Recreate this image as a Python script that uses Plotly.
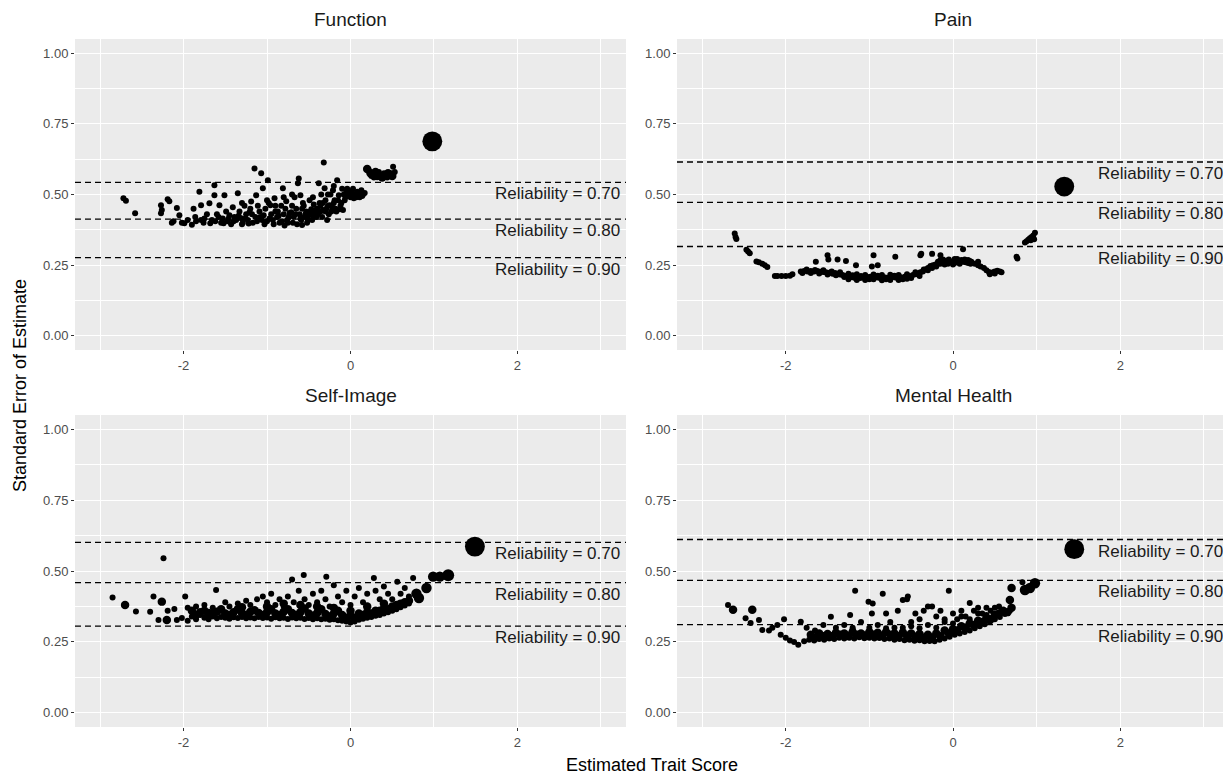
import math
import plotly.graph_objects as go

# ---------------- data ----------------
panel_titles = ["Function", "Pain", "Self-Image", "Mental Health"]
rel_labels = ["Reliability = 0.70", "Reliability = 0.80", "Reliability = 0.90"]

func_rel = [0.543, 0.413, 0.277]
pain_rel = [0.615, 0.472, 0.316]
self_rel = [0.601, 0.459, 0.306]
mental_rel = [0.611, 0.467, 0.311]

x_tick_vals = [-2, 0, 2]
x_tick_text = ["-2", "0", "2"]
y_tick_vals = [0.00, 0.25, 0.50, 0.75, 1.00]
y_tick_text = ["0.00", "0.25", "0.50", "0.75", "1.00"]

# (trait score, standard error, n respondents)
func_pts = [
    (-2.72, 0.487, 1), (-2.69, 0.478, 1), (-2.58, 0.434, 1),
    (-2.27, 0.462, 1), (-2.27, 0.434, 1), (-2.26, 0.445, 1), (-2.19, 0.483, 1), (-2.17, 0.476, 1),
    (-2.14, 0.400, 1), (-2.12, 0.405, 1), (-2.08, 0.452, 1), (-2.05, 0.427, 1), (-2.02, 0.400, 1),
    (-1.99, 0.398, 1), (-1.95, 0.410, 1), (-1.90, 0.393, 1), (-1.88, 0.450, 1), (-1.86, 0.420, 1),
    (-1.81, 0.510, 1), (-1.79, 0.462, 1), (-1.79, 0.410, 1), (-1.76, 0.400, 1), (-1.72, 0.430, 1),
    (-1.69, 0.469, 1), (-1.66, 0.410, 1), (-1.63, 0.533, 1), (-1.63, 0.497, 1), (-1.60, 0.430, 1),
    (-1.57, 0.462, 1), (-1.55, 0.400, 1), (-1.53, 0.415, 1), (-1.51, 0.497, 1), (-1.49, 0.440, 1),
    (-1.47, 0.405, 1), (-1.45, 0.427, 1), (-1.43, 0.395, 1), (-1.41, 0.455, 1), (-1.39, 0.420, 1),
    (-1.37, 0.410, 1), (-1.35, 0.504, 1), (-1.33, 0.440, 1), (-1.31, 0.416, 1), (-1.29, 0.400, 1),
    (-1.27, 0.460, 1), (-1.25, 0.430, 1), (-1.23, 0.410, 1), (-1.21, 0.437, 1), (-1.19, 0.475, 1),
    (-1.17, 0.400, 1), (-1.15, 0.592, 1), (-1.14, 0.420, 1), (-1.13, 0.497, 1), (-1.11, 0.460, 1),
    (-1.09, 0.440, 1), (-1.07, 0.575, 1), (-1.06, 0.410, 1), (-1.05, 0.522, 1), (-1.04, 0.427, 1),
    (-1.02, 0.450, 1), (-1.00, 0.405, 1), (-0.99, 0.550, 1), (-0.98, 0.470, 1), (-0.96, 0.462, 1),
    (-0.95, 0.430, 1), (-0.93, 0.410, 1), (-0.91, 0.487, 1), (-0.90, 0.440, 1), (-0.88, 0.420, 1),
    (-0.87, 0.440, 1), (-0.85, 0.400, 1), (-0.83, 0.460, 1), (-0.81, 0.522, 1), (-0.80, 0.430, 1),
    (-0.78, 0.450, 1), (-0.77, 0.476, 1), (-0.76, 0.410, 1), (-0.75, 0.400, 1), (-0.73, 0.435, 1),
    (-0.71, 0.437, 1), (-0.70, 0.460, 1), (-0.68, 0.420, 1), (-0.67, 0.490, 1), (-0.65, 0.450, 1),
    (-0.63, 0.540, 1), (-0.62, 0.557, 1), (-0.61, 0.430, 1), (-0.60, 0.497, 1), (-0.59, 0.410, 1),
    (-0.58, 0.392, 1), (-0.57, 0.470, 1), (-0.56, 0.460, 1), (-0.55, 0.420, 1), (-0.53, 0.440, 1),
    (-0.52, 0.400, 1), (-0.50, 0.427, 1), (-0.49, 0.480, 1), (-0.47, 0.448, 1), (-0.46, 0.410, 1),
    (-0.44, 0.465, 1), (-0.43, 0.430, 1), (-0.41, 0.420, 1), (-0.40, 0.450, 1), (-0.38, 0.540, 1),
    (-0.37, 0.470, 1), (-0.36, 0.440, 1), (-0.35, 0.500, 1), (-0.34, 0.420, 1), (-0.32, 0.613, 1),
    (-0.31, 0.522, 1), (-0.30, 0.480, 1), (-0.29, 0.450, 1), (-0.28, 0.410, 1), (-0.27, 0.460, 1),
    (-0.25, 0.462, 1), (-0.24, 0.500, 1), (-0.23, 0.440, 1), (-0.21, 0.515, 1), (-0.20, 0.470, 1),
    (-0.18, 0.450, 1), (-0.16, 0.550, 1), (-0.15, 0.480, 1), (-0.14, 0.497, 1), (-0.13, 0.448, 1),
    (-0.12, 0.460, 1), (-0.10, 0.520, 1), (-0.08, 0.500, 1), (-0.06, 0.490, 1), (-0.05, 0.510, 1),
    (-0.04, 0.520, 1), (-0.02, 0.500, 1), (0.00, 0.490, 1), (0.02, 0.505, 1), (0.04, 0.487, 1),
    (0.06, 0.500, 1), (0.08, 0.510, 1), (0.09, 0.497, 1), (0.11, 0.490, 1), (0.13, 0.515, 1),
    (0.15, 0.500, 1),
    (-1.85, 0.405, 1), (-1.75, 0.415, 1), (-1.68, 0.398, 1), (-1.62, 0.405, 1), (-1.58, 0.420, 1),
    (-1.52, 0.398, 1), (-1.46, 0.415, 1), (-1.40, 0.405, 1), (-1.34, 0.425, 1), (-1.30, 0.395, 1),
    (-1.26, 0.415, 1), (-1.22, 0.397, 1), (-1.18, 0.430, 1), (-1.12, 0.405, 1), (-1.08, 0.420, 1),
    (-1.03, 0.395, 1), (-0.97, 0.415, 1), (-0.92, 0.395, 1), (-0.86, 0.425, 1), (-0.82, 0.405, 1),
    (-0.79, 0.390, 1), (-0.74, 0.420, 1), (-0.69, 0.400, 1), (-0.66, 0.430, 1), (-0.64, 0.395, 1),
    (-0.60, 0.415, 1), (-0.54, 0.430, 1), (-0.51, 0.410, 1), (-0.48, 0.440, 1), (-0.45, 0.425, 1),
    (-0.42, 0.445, 1), (-0.39, 0.430, 1), (-0.36, 0.460, 1), (-0.33, 0.445, 1), (-0.30, 0.440, 1),
    (-0.26, 0.430, 1), (-0.22, 0.455, 1), (-0.19, 0.480, 1), (-0.17, 0.440, 1), (-0.11, 0.470, 1),
    (-0.09, 0.445, 1), (-0.07, 0.480, 1), (-0.03, 0.500, 1), (0.01, 0.510, 1), (0.03, 0.520, 1),
    (0.07, 0.490, 1), (0.10, 0.505, 1), (0.12, 0.500, 1), (0.14, 0.495, 1), (0.17, 0.505, 1),
    (-1.30, 0.470, 1), (-1.20, 0.450, 1), (-1.00, 0.480, 1), (-0.90, 0.460, 1), (-0.80, 0.490, 1),
    (-0.70, 0.500, 1), (-0.58, 0.450, 1), (-0.45, 0.490, 1), (-0.27, 0.500, 1), (-0.20, 0.530, 1),
    (-0.33, 0.470, 1),
    (0.20, 0.590, 2), (0.22, 0.585, 1), (0.24, 0.575, 2), (0.27, 0.570, 1), (0.30, 0.580, 2),
    (0.32, 0.565, 2), (0.35, 0.570, 1), (0.38, 0.560, 2), (0.42, 0.565, 1), (0.45, 0.575, 2),
    (0.48, 0.575, 1), (0.51, 0.598, 1), (0.50, 0.565, 2), (0.25, 0.565, 1), (0.28, 0.560, 1),
    (0.34, 0.580, 1), (0.40, 0.575, 1), (0.44, 0.560, 1), (0.47, 0.565, 1), (0.53, 0.580, 1),
    (0.98, 0.688, 11),
]

pain_pts = [
    (-2.61, 0.362, 1), (-2.60, 0.350, 1), (-2.59, 0.343, 1),
    (-2.47, 0.305, 1), (-2.45, 0.298, 1), (-2.43, 0.292, 1),
    (-2.35, 0.263, 1), (-2.32, 0.260, 1), (-2.28, 0.255, 1), (-2.25, 0.250, 1), (-2.22, 0.244, 1),
    (-2.13, 0.212, 1), (-2.10, 0.212, 1), (-2.05, 0.212, 1), (-2.00, 0.212, 1), (-1.95, 0.213, 1),
    (-1.92, 0.218, 1),
    (-1.82, 0.228, 1), (-1.78, 0.229, 1), (-1.74, 0.228, 1), (-1.70, 0.229, 1), (-1.66, 0.228, 1),
    (-1.62, 0.229, 1), (-1.58, 0.227, 1), (-1.55, 0.226, 1), (-1.52, 0.225, 1), (-1.50, 0.222, 1),
    (-1.47, 0.224, 1), (-1.44, 0.220, 1), (-1.41, 0.222, 1), (-1.38, 0.218, 1), (-1.35, 0.217, 1),
    (-1.32, 0.215, 1), (-1.29, 0.212, 1), (-1.26, 0.213, 1), (-1.23, 0.208, 1), (-1.20, 0.207, 1),
    (-1.17, 0.205, 1), (-1.14, 0.204, 1), (-1.11, 0.205, 1), (-1.08, 0.206, 1), (-1.05, 0.208, 1),
    (-1.02, 0.207, 1), (-0.99, 0.209, 1), (-0.96, 0.210, 1), (-0.93, 0.208, 1), (-0.90, 0.206, 1),
    (-0.87, 0.205, 1), (-0.84, 0.207, 1), (-0.81, 0.206, 1), (-0.78, 0.205, 1), (-0.75, 0.207, 1),
    (-0.72, 0.209, 1), (-0.69, 0.206, 1), (-0.66, 0.205, 1), (-0.63, 0.207, 1), (-0.60, 0.206, 1),
    (-0.57, 0.210, 1), (-0.54, 0.212, 1), (-0.51, 0.211, 1), (-0.48, 0.215, 1), (-0.45, 0.218, 1),
    (-0.42, 0.220, 1), (-0.39, 0.225, 1), (-0.36, 0.228, 1), (-0.33, 0.235, 1), (-0.30, 0.240, 1),
    (-0.27, 0.247, 1), (-0.24, 0.250, 1), (-0.21, 0.252, 1), (-0.18, 0.255, 1), (-0.15, 0.255, 1),
    (-0.12, 0.258, 1), (-0.09, 0.260, 1), (-0.06, 0.262, 1), (-0.03, 0.263, 1), (0.00, 0.262, 1),
    (0.03, 0.264, 1), (0.06, 0.263, 1), (0.09, 0.262, 1), (0.12, 0.262, 1), (0.15, 0.260, 1),
    (0.18, 0.258, 1), (0.21, 0.255, 1),
    (-1.80, 0.222, 1), (-1.70, 0.222, 1), (-1.60, 0.221, 1), (-1.50, 0.217, 1), (-1.40, 0.214, 1),
    (-1.30, 0.208, 1), (-1.20, 0.214, 1), (-1.10, 0.212, 1), (-1.00, 0.200, 1), (-0.90, 0.213, 1),
    (-0.80, 0.200, 1), (-0.70, 0.213, 1), (-0.60, 0.200, 1), (-0.50, 0.205, 1), (-0.40, 0.212, 1),
    (-0.30, 0.232, 1), (-0.20, 0.245, 1), (-0.10, 0.252, 1), (0.00, 0.252, 1), (0.10, 0.268, 1),
    (0.20, 0.265, 1), (-0.05, 0.270, 1), (0.05, 0.272, 1), (-0.15, 0.268, 1),
    (-1.75, 0.235, 1), (-1.65, 0.233, 1), (-1.55, 0.232, 1), (-1.45, 0.228, 1), (-1.35, 0.225, 1),
    (-1.25, 0.220, 1), (-1.15, 0.218, 1), (-1.05, 0.215, 1), (-0.95, 0.217, 1), (-0.85, 0.215, 1),
    (-0.75, 0.216, 1), (-0.65, 0.215, 1), (-0.55, 0.218, 1), (-0.45, 0.225, 1), (-0.35, 0.235, 1),
    (-1.25, 0.200, 1), (-1.15, 0.198, 1), (-1.05, 0.198, 1), (-0.95, 0.200, 1), (-0.85, 0.197, 1),
    (-0.75, 0.198, 1), (-0.65, 0.198, 1), (-0.55, 0.202, 1), (-0.25, 0.240, 1), (-0.18, 0.262, 1),
    (-0.12, 0.270, 1), (-0.06, 0.255, 1), (0.02, 0.272, 1), (0.08, 0.255, 1), (0.14, 0.270, 1),
    (0.18, 0.268, 1), (0.22, 0.262, 1), (0.02, 0.258, 1), (-0.08, 0.266, 1),
    (0.26, 0.255, 1), (0.30, 0.250, 1), (0.33, 0.245, 1), (0.37, 0.240, 1), (0.40, 0.232, 1),
    (0.43, 0.226, 1), (0.45, 0.222, 1), (0.48, 0.225, 1), (0.50, 0.228, 1), (0.53, 0.230, 1),
    (0.56, 0.228, 1), (0.58, 0.225, 1), (0.44, 0.218, 1), (0.50, 0.221, 1),
    (-1.64, 0.262, 1), (-1.50, 0.285, 1), (-1.49, 0.270, 1), (-1.38, 0.270, 1), (-1.28, 0.265, 1),
    (-1.16, 0.250, 1), (-0.95, 0.285, 1), (-0.97, 0.245, 1), (-0.90, 0.250, 1), (-0.69, 0.280, 1),
    (-0.39, 0.285, 1), (-0.38, 0.290, 1), (-0.25, 0.290, 1), (-0.15, 0.285, 1), (0.12, 0.306, 1),
    (0.30, 0.262, 1),
    (0.77, 0.274, 1), (0.76, 0.280, 1), (0.86, 0.330, 1), (0.88, 0.335, 1), (0.90, 0.340, 1),
    (0.92, 0.345, 1), (0.94, 0.350, 1), (0.96, 0.355, 1), (0.98, 0.365, 1), (0.93, 0.338, 1),
    (0.97, 0.342, 1),
    (1.33, 0.528, 11),
]

self_pts = [
    (-2.24, 0.545, 1), (-2.85, 0.407, 1), (-2.70, 0.380, 2), (-2.57, 0.357, 1), (-2.40, 0.356, 1),
    (-2.36, 0.410, 1), (-2.26, 0.392, 2), (-2.30, 0.327, 1), (-2.20, 0.327, 2), (-2.19, 0.360, 1),
    (-2.11, 0.366, 1), (-2.08, 0.327, 1), (-2.02, 0.334, 1), (-1.98, 0.410, 1), (-1.95, 0.370, 1),
    (-1.61, 0.433, 1),
    (-1.95, 0.325, 1), (-1.90, 0.340, 1), (-1.85, 0.330, 1), (-1.80, 0.345, 1), (-1.75, 0.335, 1),
    (-1.70, 0.330, 1), (-1.65, 0.340, 1), (-1.60, 0.333, 1), (-1.55, 0.338, 1), (-1.50, 0.335, 1),
    (-1.45, 0.332, 1), (-1.40, 0.337, 1), (-1.35, 0.334, 1), (-1.30, 0.338, 1), (-1.25, 0.333, 1),
    (-1.20, 0.336, 1), (-1.15, 0.333, 1), (-1.10, 0.338, 1), (-1.05, 0.334, 1), (-1.00, 0.336, 1),
    (-0.95, 0.332, 1), (-0.90, 0.337, 1), (-0.85, 0.333, 1), (-0.80, 0.335, 1), (-0.75, 0.331, 1),
    (-0.70, 0.336, 1), (-0.65, 0.333, 1), (-0.60, 0.335, 1), (-0.55, 0.331, 1), (-0.50, 0.334, 1),
    (-0.45, 0.330, 1), (-0.40, 0.333, 1), (-0.35, 0.330, 1), (-0.30, 0.332, 1), (-0.25, 0.328, 1),
    (-0.20, 0.330, 1), (-0.15, 0.326, 1), (-0.10, 0.325, 1), (-0.05, 0.322, 1), (0.00, 0.318, 1),
    (0.05, 0.322, 1), (0.10, 0.328, 1), (0.15, 0.332, 1), (0.20, 0.335, 1), (0.25, 0.338, 1),
    (0.30, 0.342, 1), (0.35, 0.345, 1), (0.40, 0.350, 1), (0.45, 0.355, 1), (0.50, 0.360, 1),
    (0.55, 0.365, 1), (0.60, 0.372, 1), (0.65, 0.378, 1), (0.70, 0.385, 1),
    (-1.90, 0.360, 2), (-1.80, 0.355, 2), (-1.70, 0.352, 2), (-1.60, 0.356, 2), (-1.50, 0.350, 2),
    (-1.40, 0.355, 2), (-1.30, 0.352, 2), (-1.20, 0.356, 2), (-1.10, 0.352, 2), (-1.00, 0.355, 2),
    (-0.90, 0.350, 2), (-0.80, 0.356, 2), (-0.70, 0.352, 2), (-0.60, 0.355, 2), (-0.50, 0.350, 2),
    (-0.40, 0.352, 2), (-0.30, 0.348, 2), (-0.20, 0.350, 2), (-0.10, 0.345, 2), (0.00, 0.342, 2),
    (0.10, 0.350, 2), (0.20, 0.355, 2), (0.30, 0.360, 2), (0.40, 0.368, 2), (0.50, 0.375, 2),
    (0.60, 0.385, 2), (0.70, 0.395, 2),
    (-1.85, 0.345, 2), (-1.75, 0.360, 2), (-1.65, 0.348, 2), (-1.55, 0.365, 2), (-1.45, 0.345, 2),
    (-1.35, 0.365, 2), (-1.25, 0.345, 2), (-1.15, 0.362, 2), (-1.05, 0.345, 2), (-0.95, 0.365, 2),
    (-0.85, 0.345, 2), (-0.75, 0.365, 2), (-0.65, 0.345, 2), (-0.55, 0.368, 2), (-0.45, 0.342, 2),
    (-0.35, 0.365, 2), (-0.25, 0.340, 2), (-0.15, 0.360, 2), (-0.05, 0.335, 2), (0.05, 0.335, 2),
    (0.15, 0.345, 2), (0.25, 0.350, 2), (0.35, 0.360, 2), (0.45, 0.365, 2), (0.55, 0.380, 2),
    (0.65, 0.390, 2), (-0.60, 0.380, 2), (-0.40, 0.375, 2), (-0.20, 0.370, 2), (0.00, 0.360, 2),
    (0.20, 0.375, 2), (0.40, 0.385, 2), (-1.00, 0.375, 2), (-1.30, 0.372, 2), (-0.80, 0.385, 2),
    (-1.85, 0.375, 1), (-1.75, 0.380, 1), (-1.65, 0.370, 1), (-1.50, 0.390, 1), (-1.45, 0.375, 1),
    (-1.35, 0.385, 1), (-1.25, 0.395, 1), (-1.20, 0.380, 1), (-1.12, 0.400, 1), (-1.05, 0.410, 1),
    (-1.00, 0.390, 1), (-0.95, 0.420, 1), (-0.90, 0.380, 1), (-0.85, 0.400, 1), (-0.80, 0.375, 1),
    (-0.75, 0.410, 1), (-0.70, 0.470, 1), (-0.68, 0.390, 1), (-0.62, 0.430, 1), (-0.56, 0.486, 1),
    (-0.55, 0.400, 1), (-0.50, 0.380, 1), (-0.45, 0.420, 1), (-0.40, 0.390, 1), (-0.35, 0.430, 1),
    (-0.30, 0.400, 1), (-0.29, 0.480, 1), (-0.25, 0.375, 1), (-0.20, 0.450, 1), (-0.15, 0.410, 1),
    (-0.10, 0.390, 1), (-0.05, 0.430, 1), (0.00, 0.380, 1), (0.05, 0.410, 1), (0.10, 0.440, 1),
    (0.15, 0.390, 1), (0.20, 0.420, 1), (0.28, 0.475, 1), (0.30, 0.430, 1), (0.35, 0.400, 1),
    (0.40, 0.445, 1), (0.45, 0.420, 1), (0.50, 0.400, 1), (0.56, 0.462, 1), (0.60, 0.420, 1),
    (0.65, 0.440, 1), (0.75, 0.475, 1), (0.70, 0.410, 1),
    (0.79, 0.420, 3), (0.82, 0.405, 3), (0.91, 0.440, 3), (0.99, 0.480, 3), (1.07, 0.480, 3),
    (1.17, 0.485, 4),
    (1.49, 0.586, 11),
]

mental_pts = [
    (-2.69, 0.380, 1), (-2.63, 0.363, 2), (-2.48, 0.333, 1), (-2.40, 0.363, 2), (-2.42, 0.317, 1),
    (-2.32, 0.327, 1), (-2.28, 0.292, 1), (-2.20, 0.290, 1), (-2.16, 0.300, 1), (-2.10, 0.310, 1),
    (-2.02, 0.330, 1), (-2.06, 0.275, 1), (-2.00, 0.265, 1), (-1.95, 0.255, 1), (-1.90, 0.250, 1),
    (-1.85, 0.240, 1), (-1.82, 0.321, 1),
    (-1.78, 0.252, 1), (-1.72, 0.258, 1), (-1.66, 0.255, 1), (-1.60, 0.260, 1), (-1.54, 0.258, 1),
    (-1.48, 0.262, 1), (-1.42, 0.260, 1), (-1.36, 0.265, 1), (-1.30, 0.262, 1), (-1.24, 0.265, 1),
    (-1.18, 0.262, 1), (-1.12, 0.266, 1), (-1.06, 0.263, 1), (-1.00, 0.265, 1), (-0.94, 0.262, 1),
    (-0.88, 0.264, 1), (-0.82, 0.260, 1), (-0.76, 0.262, 1), (-0.70, 0.258, 1), (-0.64, 0.260, 1),
    (-0.58, 0.256, 1), (-0.52, 0.258, 1), (-0.46, 0.254, 1), (-0.40, 0.256, 1), (-0.34, 0.252, 1),
    (-0.28, 0.253, 1), (-0.22, 0.252, 1), (-0.16, 0.258, 1), (-0.10, 0.262, 1), (-0.04, 0.268, 1),
    (0.02, 0.275, 1), (0.08, 0.280, 1), (0.14, 0.285, 1), (0.20, 0.290, 1), (0.26, 0.298, 1),
    (0.32, 0.305, 1), (0.38, 0.312, 1), (0.44, 0.320, 1), (0.50, 0.330, 1), (0.56, 0.338, 1),
    (0.62, 0.348, 1), (0.68, 0.360, 1),
    (-1.70, 0.275, 2), (-1.60, 0.280, 2), (-1.50, 0.278, 2), (-1.40, 0.282, 2), (-1.30, 0.280, 2),
    (-1.20, 0.285, 2), (-1.10, 0.280, 2), (-1.00, 0.285, 2), (-0.90, 0.282, 2), (-0.80, 0.285, 2),
    (-0.70, 0.280, 2), (-0.60, 0.283, 2), (-0.50, 0.280, 2), (-0.40, 0.278, 2), (-0.30, 0.275, 2),
    (-0.20, 0.280, 2), (-0.10, 0.290, 2), (0.00, 0.295, 2), (0.10, 0.305, 2), (0.20, 0.315, 2),
    (0.30, 0.325, 2), (0.40, 0.335, 2), (0.50, 0.345, 2), (0.60, 0.360, 2), (0.70, 0.370, 2),
    (-1.65, 0.265, 2), (-1.55, 0.270, 2), (-1.45, 0.270, 2), (-1.35, 0.275, 2), (-1.25, 0.272, 2),
    (-1.15, 0.275, 2), (-1.05, 0.273, 2), (-0.95, 0.275, 2), (-0.85, 0.272, 2), (-0.75, 0.275, 2),
    (-0.65, 0.270, 2), (-0.55, 0.272, 2), (-0.45, 0.268, 2), (-0.35, 0.265, 2), (-0.25, 0.265, 2),
    (-0.15, 0.270, 2), (-0.05, 0.280, 2), (0.05, 0.290, 2), (0.15, 0.300, 2), (0.25, 0.310, 2),
    (0.35, 0.320, 2), (0.45, 0.330, 2), (0.55, 0.350, 2), (0.65, 0.355, 2), (-1.20, 0.295, 1),
    (-1.00, 0.300, 1), (-0.80, 0.298, 1), (-0.60, 0.300, 1), (-0.40, 0.298, 1), (-0.20, 0.300, 1),
    (0.00, 0.315, 1), (0.20, 0.330, 1), (0.40, 0.345, 1), (-0.30, 0.310, 1), (-0.50, 0.305, 1),
    (-0.10, 0.320, 1), (0.10, 0.340, 1), (0.30, 0.350, 1),
    (-1.75, 0.300, 1), (-1.65, 0.290, 1), (-1.55, 0.310, 1), (-1.46, 0.339, 1), (-1.40, 0.300, 1),
    (-1.30, 0.310, 1), (-1.23, 0.345, 1), (-1.20, 0.300, 1), (-1.17, 0.430, 1), (-1.10, 0.320, 1),
    (-1.01, 0.392, 1), (-0.97, 0.350, 1), (-0.96, 0.385, 1), (-0.90, 0.310, 1), (-0.84, 0.420, 1),
    (-0.80, 0.350, 1), (-0.75, 0.320, 1), (-0.70, 0.300, 1), (-0.66, 0.360, 1), (-0.60, 0.398, 1),
    (-0.55, 0.400, 1), (-0.54, 0.410, 1), (-0.50, 0.320, 1), (-0.45, 0.350, 1), (-0.40, 0.330, 1),
    (-0.35, 0.360, 1), (-0.30, 0.375, 1), (-0.25, 0.375, 1), (-0.20, 0.340, 1), (-0.15, 0.360, 1),
    (-0.10, 0.330, 1), (-0.05, 0.430, 1), (0.00, 0.350, 1), (0.05, 0.330, 1), (0.10, 0.360, 1),
    (0.15, 0.340, 1), (0.20, 0.387, 1), (0.25, 0.360, 1), (0.30, 0.370, 1), (0.35, 0.350, 1),
    (0.40, 0.370, 1), (0.45, 0.360, 1), (0.50, 0.370, 1), (0.55, 0.375, 1),
    (0.70, 0.440, 2), (0.68, 0.398, 2), (0.83, 0.460, 1), (0.86, 0.433, 3), (0.92, 0.440, 3),
    (0.98, 0.457, 3),
    (1.45, 0.577, 11),
]

# ---------------- figure ----------------
# the page body has an 8px margin, so the figure is drawn 8px smaller and
# every reference pixel position is shifted by that offset
OFF = 8
W, H = 1231 - OFF, 775 - OFF


def px_x(p):
    return (p - OFF) / W


def px_y(p):
    return 1 - (p - OFF) / H


xL = [px_x(75), px_x(626)]
xR = [px_x(677), px_x(1229)]
yT = [px_y(350), px_y(39)]
yB = [px_y(727), px_y(415)]

FONT = "Liberation Sans, Arial, Helvetica, sans-serif"
BG = "#EBEBEB"

panels = [
    (panel_titles[0], func_pts, func_rel, xL, yT, "x", "y"),
    (panel_titles[1], pain_pts, pain_rel, xR, yT, "x2", "y2"),
    (panel_titles[2], self_pts, self_rel, xL, yB, "x3", "y3"),
    (panel_titles[3], mental_pts, mental_rel, xR, yB, "x4", "y4"),
]

fig = go.Figure()
annotations = []
shapes = []
layout_axes = {}

for i, (title, pts, rels, xd, yd, xa, ya) in enumerate(panels):
    idx = "" if i == 0 else str(i + 1)
    xs = [p[0] for p in pts]
    ys = [p[1] for p in pts]
    ns = [p[2] for p in pts]
    sizes = [6.0 * math.sqrt(n) for n in ns]
    fig.add_trace(go.Scatter(
        x=xs, y=ys, mode="markers", xaxis=xa, yaxis=ya, showlegend=False,
        marker=dict(color="black", size=sizes, opacity=1, line=dict(width=0)),
        hoverinfo="x+y",
    ))
    layout_axes["xaxis" + idx] = dict(
        domain=xd, anchor=ya, range=[-3.3, 3.3], tickvals=x_tick_vals, ticktext=x_tick_text,
        showgrid=True, gridcolor="white", gridwidth=1.3, zeroline=False,
        ticks="outside", ticklen=3, tickcolor="#333333", tickwidth=1,
        tickfont=dict(size=13, color="#4D4D4D", family=FONT),
        minor=dict(tickvals=[-3, -1, 1, 3], showgrid=True, gridcolor="white", gridwidth=0.6, ticks=""),
        showline=False, fixedrange=True,
    )
    layout_axes["yaxis" + idx] = dict(
        domain=yd, anchor=xa, range=[-0.05, 1.05], tickvals=y_tick_vals, ticktext=y_tick_text,
        showgrid=True, gridcolor="white", gridwidth=1.3, zeroline=False,
        ticks="outside", ticklen=3, tickcolor="#333333", tickwidth=1,
        tickfont=dict(size=13, color="#4D4D4D", family=FONT),
        minor=dict(tickvals=[0.125, 0.375, 0.625, 0.875], showgrid=True, gridcolor="white", gridwidth=0.6, ticks=""),
        showline=False, fixedrange=True,
    )
    # panel strip title
    annotations.append(dict(
        text=title, xref="paper", yref="paper", x=(xd[0] + xd[1]) / 2, y=yd[1],
        xanchor="center", yanchor="bottom", yshift=7, showarrow=False,
        font=dict(size=19, color="#1A1A1A", family=FONT),
    ))
    for r, lab in zip(rels, rel_labels):
        shapes.append(dict(
            type="line", xref=xa + " domain", yref=ya, x0=0, x1=1, y0=r, y1=r,
            line=dict(color="black", width=1.3, dash="6px,4px"), layer="above",
        ))
        annotations.append(dict(
            text=lab, xref=xa + " domain", yref=ya, x=1, y=r,
            xanchor="right", yanchor="top", xshift=-4, yshift=0, showarrow=False,
            font=dict(size=17, color="#1A1A1A", family=FONT),
        ))

# axis titles
annotations.append(dict(
    text="Estimated Trait Score", xref="paper", yref="paper", x=(xL[0] + xR[1]) / 2, y=px_y(765),
    xanchor="center", yanchor="middle", showarrow=False,
    font=dict(size=18, color="black", family=FONT),
))
annotations.append(dict(
    text="Standard Error of Estimate", xref="paper", yref="paper", x=px_x(20), y=px_y(386),
    xanchor="center", yanchor="middle", showarrow=False, textangle=-90,
    font=dict(size=18, color="black", family=FONT),
))

fig.update_layout(
    width=W, height=H, margin=dict(l=0, r=0, t=0, b=0),
    paper_bgcolor="white", plot_bgcolor=BG,
    annotations=annotations, shapes=shapes,
    font=dict(family=FONT),
    **layout_axes,
)

fig.write_html("out.html")
